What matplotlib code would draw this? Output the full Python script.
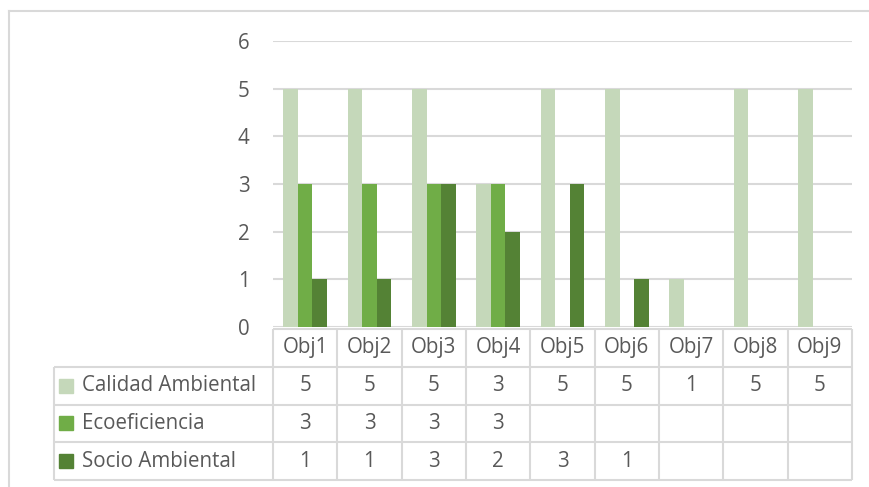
import numpy as np
import matplotlib.pyplot as plt
from matplotlib.lines import Line2D

plt.rcParams['font.family'] = ['Open Sans', 'DejaVu Sans']

# Data
categories = ['Obj1', 'Obj2', 'Obj3', 'Obj4', 'Obj5', 'Obj6', 'Obj7', 'Obj8', 'Obj9']
series_names = ['Calidad Ambiental', 'Ecoeficiencia', 'Socio Ambiental']
calidad = [5, 5, 5, 3, 5, 5, 1, 5, 5]
ecoeficiencia = [3, 3, 3, 3, None, None, None, None, None]
socio = [1, 1, 3, 2, 3, 1, None, None, None]
series_values = [calidad, ecoeficiencia, socio]
yticks = [0, 1, 2, 3, 4, 5, 6]

colors = ['#C5D8BA', '#70AD47', '#548235']
grid_col = '#D9D9D9'
text_col = '#595959'
fs = 14.8

W, H = 870, 487
fig = plt.figure(figsize=(W / 100, H / 100), dpi=100)

# pixel helpers for layout
def fx(px):
    return px / W

def fy(py):
    return 1 - py / H

# chart area border
fig.add_artist(Line2D([fx(9), fx(9)], [fy(11), 0], color=grid_col, lw=1.5))
fig.add_artist(Line2D([fx(9), 1], [fy(11), fy(11)], color=grid_col, lw=1.5))

# bar plot area
pl, pr, pt, pb = 273, 852, 41, 327
ax = fig.add_axes([fx(pl), fy(pb), fx(pr) - fx(pl), fy(pt) - fy(pb)])
x = np.arange(len(categories))
w = 0.225
offsets = [-w, 0, w]
for vals, off, col in zip(series_values, offsets, colors):
    xs = [xi + off for xi, v in zip(x, vals) if v is not None]
    hs = [v for v in vals if v is not None]
    ax.bar(xs, hs, width=w, color=col, zorder=3)

ax.set_xlim(-0.5, len(categories) - 0.5)
ax.set_ylim(0, 6)
ax.set_yticks(yticks)
ax.set_yticklabels([str(t) for t in yticks], fontsize=fs, color=text_col)
ax.tick_params(axis='y', length=0, pad=17)
ax.set_xticks([])
for s in ax.spines.values():
    s.set_visible(False)
ax.grid(axis='y', color=grid_col, lw=1.5, zorder=0)
ax.set_axisbelow(True)

# data table below the plot
tl, tt, tb = 54, 329, 480
unit = (pr - pl) / len(categories)
left_lim = -0.5 - (pl - tl) / unit
tax = fig.add_axes([fx(tl), fy(tb), fx(pr) - fx(tl), fy(tt) - fy(tb)])
tax.set_xlim(left_lim, len(categories) - 0.5)
tax.set_ylim(4, 0)
tax.axis('off')

lk = dict(color=grid_col, lw=1.5, solid_capstyle='butt', clip_on=False)
xr = len(categories) - 0.5
# horizontal lines
tax.plot([-0.5, xr], [0, 0], **lk)
for r in [1, 2, 3, 4]:
    tax.plot([left_lim, xr], [r, r], **lk)
# vertical lines
for c in range(len(categories) + 1):
    tax.plot([c - 0.5, c - 0.5], [0, 4], **lk)
tax.plot([left_lim, left_lim], [1, 4], **lk)

for i, cat in enumerate(categories):
    tax.text(i, 0.5, cat, ha='center', va='center', fontsize=fs, color=text_col)

for r, (name, vals, col) in enumerate(zip(series_names, series_values, colors)):
    yy = r + 1.5
    tax.plot([left_lim + 0.19], [yy], marker='s', ms=10.5, color=col, clip_on=False)
    tax.text(left_lim + 0.43, yy, name, ha='left', va='center', fontsize=fs, color=text_col)
    for i, v in enumerate(vals):
        if v is not None:
            tax.text(i, yy, str(v), ha='center', va='center', fontsize=fs, color=text_col)

fig.savefig('out.png', dpi=100)
